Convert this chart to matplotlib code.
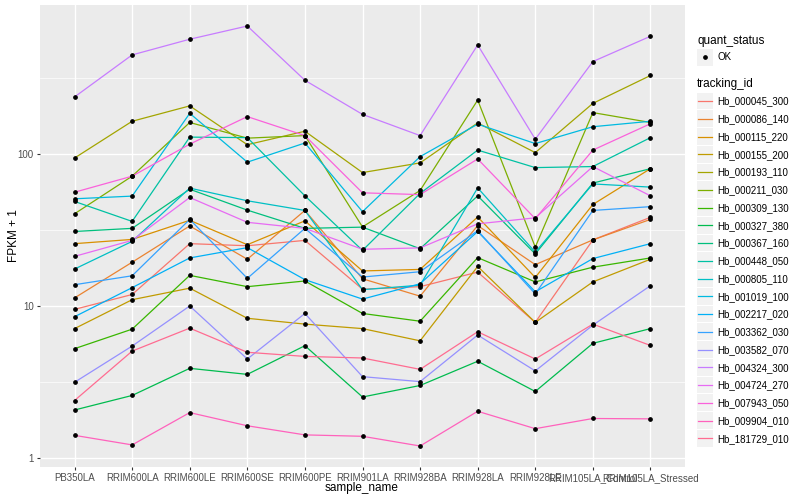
import matplotlib.pyplot as plt
import numpy as np
from matplotlib.patches import Rectangle

plt.rcParams['font.family'] = ['Liberation Sans', 'DejaVu Sans']

samples = ['PB350LA', 'RRIM600LA', 'RRIM600LE', 'RRIM600SE', 'RRIM600PE', 'RRIM901LA',
           'RRIM928BA', 'RRIM928LA', 'RRIM928LE', 'RRIM105LA_Control', 'RRIM105LA_Stressed']

tracking_ids = ['Hb_000045_300', 'Hb_000086_140', 'Hb_000115_220', 'Hb_000155_200',
                'Hb_000193_110', 'Hb_000211_030', 'Hb_000309_130', 'Hb_000327_380',
                'Hb_000367_160', 'Hb_000448_050', 'Hb_000805_110', 'Hb_001019_100',
                'Hb_002217_020', 'Hb_003362_030', 'Hb_003582_070', 'Hb_004324_300',
                'Hb_004724_270', 'Hb_007943_050', 'Hb_009904_010', 'Hb_181729_010']

# ggplot hue palette for 20 levels
colors = ['#F8766D', '#EA8331', '#D89000', '#C09B00', '#A3A500', '#7CAE00', '#39B600',
          '#00BB4E', '#00BF7D', '#00C1A3', '#00BFC4', '#00BAE0', '#00B0F6', '#35A2FF',
          '#9590FF', '#C77CFF', '#E76BF3', '#FA62DB', '#FF62BC', '#FF6C91']

# FPKM + 1 per sample
hb_000045_300 = [9.5, 11.9, 25.7, 24.9, 27.0, 12.9, 13.4, 16.7, 7.8, 27.2, 38.3]
hb_000086_140 = [11.3, 19.4, 33.6, 20.3, 42.5, 15.1, 11.6, 33.8, 18.7, 27.2, 37.1]
hb_000115_220 = [25.7, 27.4, 36.6, 25.3, 36.3, 17.0, 17.4, 38.5, 15.4, 46.5, 80.0]
hb_000155_200 = [7.1, 11.0, 13.1, 8.3, 7.6, 7.1, 5.9, 18.2, 7.8, 14.4, 20.3]
hb_000193_110 = [94.0, 164.0, 207.0, 115.0, 141.0, 75.4, 87.3, 160.0, 102.0, 215.0, 328.0]
hb_000211_030 = [40.4, 71.4, 161.0, 127.0, 132.0, 33.1, 57.5, 226.0, 24.4, 187.0, 161.0]
hb_000309_130 = [5.24, 7.04, 15.9, 13.4, 14.6, 8.93, 7.94, 20.8, 14.4, 18.0, 20.7]
hb_000327_380 = [2.07, 2.58, 3.89, 3.55, 5.48, 2.52, 3.0, 4.33, 2.74, 5.68, 7.1]
hb_000367_160 = [30.9, 32.4, 58.6, 42.7, 32.4, 33.0, 23.8, 53.0, 22.0, 64.3, 80.0]
hb_000448_050 = [48.7, 36.0, 129.0, 128.0, 53.0, 23.2, 55.0, 106.0, 81.3, 82.6, 128.0]
hb_000805_110 = [17.5, 26.6, 59.6, 49.2, 42.5, 12.8, 13.7, 59.8, 22.6, 63.5, 60.5]
hb_001019_100 = [50.7, 52.8, 185.0, 88.3, 118.0, 41.7, 96.0, 157.0, 117.0, 151.0, 164.0]
hb_002217_020 = [8.5, 13.2, 20.7, 24.2, 14.9, 11.1, 14.0, 30.9, 12.4, 20.5, 25.7]
hb_003362_030 = [13.8, 15.8, 37.1, 15.2, 32.4, 15.5, 16.8, 31.3, 12.0, 42.5, 45.0]
hb_003582_070 = [3.15, 5.45, 10.0, 4.48, 8.93, 3.43, 3.18, 6.44, 3.74, 7.48, 13.6]
hb_004324_300 = [237.0, 448.0, 568.0, 694.0, 305.0, 182.0, 132.0, 521.0, 125.0, 405.0, 594.0]
hb_004724_270 = [21.2, 27.0, 51.7, 35.5, 32.4, 23.6, 24.1, 34.7, 38.0, 82.6, 53.0]
hb_007943_050 = [56.0, 71.4, 116.0, 176.0, 132.0, 55.5, 54.0, 92.7, 37.5, 106.0, 158.0]
hb_009904_010 = [1.41, 1.22, 1.99, 1.63, 1.42, 1.39, 1.20, 2.03, 1.56, 1.82, 1.81]
hb_181729_010 = [2.39, 5.05, 7.15, 4.96, 4.66, 4.55, 3.83, 6.77, 4.48, 7.6, 5.5]

series = [hb_000045_300, hb_000086_140, hb_000115_220, hb_000155_200, hb_000193_110,
          hb_000211_030, hb_000309_130, hb_000327_380, hb_000367_160, hb_000448_050,
          hb_000805_110, hb_001019_100, hb_002217_020, hb_003362_030, hb_003582_070,
          hb_004324_300, hb_004724_270, hb_007943_050, hb_009904_010, hb_181729_010]

W, H = 800, 500
fig = plt.figure(figsize=(W / 100, H / 100), dpi=100)
# panel in pixel coords: x 40..685, y 5..467
ax = fig.add_axes([40 / W, 1 - 467 / H, 645 / W, 462 / H])
ax.set_facecolor('#EBEBEB')
for s in ax.spines.values():
    s.set_visible(False)

x = np.arange(len(samples))
for vals, c in zip(series, colors):
    ax.plot(x, vals, color=c, lw=0.9, zorder=2)
for vals in series:
    ax.plot(x, vals, ls='none', marker='o', ms=2.4, color='black', zorder=3)

ax.set_yscale('log')
allv = np.log10(np.concatenate([np.array(v) for v in series]))
lo, hi = allv.min(), allv.max()
pad = (hi - lo) * 0.05
ax.set_ylim(10 ** (lo - pad), 10 ** (hi + pad))
ax.set_xlim(-0.6, len(samples) - 0.4)

ax.set_yticks([1, 10, 100])
ax.set_yticklabels(['1', '10', '100'])
ax.set_yticks([10 ** 0.5, 10 ** 1.5, 10 ** 2.5], minor=True)
ax.yaxis.set_minor_formatter(plt.NullFormatter())
ax.set_xticks(x)
ax.set_xticklabels(samples)
ax.tick_params(axis='both', which='major', length=2.5, width=0.8, color='#333333',
               labelsize=7, labelcolor='#4D4D4D', pad=2)
ax.tick_params(axis='y', which='minor', length=0)
ax.grid(which='major', color='white', lw=1.0)
ax.grid(which='minor', axis='y', color='white', lw=0.5)
ax.set_axisbelow(True)

fig.text(362 / W, 1 - 488 / H, 'sample_name', ha='center', va='center', fontsize=8.5)
fig.text(14 / W, 1 - 236 / H, 'FPKM + 1', ha='center', va='center', rotation=90,
         fontsize=8.5)

# legends drawn in pixel space
lg = fig.add_axes([0, 0, 1, 1], facecolor='none')
lg.set_xlim(0, W)
lg.set_ylim(H, 0)
lg.axis('off')

lg.text(697, 41, 'quant_status', fontsize=8.5, va='center', ha='left')
lg.add_patch(Rectangle((697, 49), 16, 16.5, color='#F2F2F2', lw=0))
lg.plot([705], [57], marker='o', ms=2.4, color='black')
lg.text(717, 57.5, 'OK', fontsize=7, va='center', ha='left')

lg.text(697, 84.5, 'tracking_id', fontsize=8.5, va='center', ha='left')
y0, step = 101.0, 17.75
for i, (name, c) in enumerate(zip(tracking_ids, colors)):
    yc = y0 + i * step
    lg.add_patch(Rectangle((697, yc - 8.3), 16, 16.6, color='#F2F2F2', lw=0))
    lg.plot([698, 712], [yc, yc], color=c, lw=0.9)
    lg.text(717, yc + 0.5, name, fontsize=7, va='center', ha='left')

fig.savefig('out.png', dpi=100)
